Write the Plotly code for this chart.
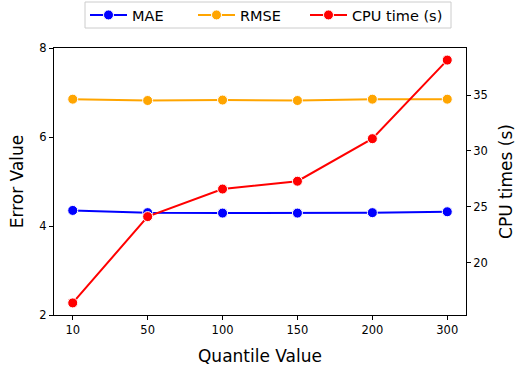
import plotly.graph_objects as go

quantiles = ["10", "50", "100", "150", "200", "300"]
mae = [4.35, 4.30, 4.29, 4.29, 4.30, 4.32]
rmse = [6.85, 6.82, 6.83, 6.82, 6.85, 6.85]
cpu_time = [16.43, 24.14, 26.6, 27.3, 31.1, 38.12]

FONT = "DejaVu Sans"

fig = go.Figure()
marker_line = dict(color="white", width=1)
fig.add_trace(go.Scatter(x=quantiles, y=mae, name="MAE", mode="lines+markers",
                         line=dict(color="#0000ff", width=2),
                         marker=dict(size=10, color="#0000ff", line=marker_line),
                         legend="legend", showlegend=True))
fig.add_trace(go.Scatter(x=quantiles, y=rmse, name="RMSE", mode="lines+markers",
                         line=dict(color="#ffa500", width=2),
                         marker=dict(size=10, color="#ffa500", line=marker_line),
                         legend="legend2", showlegend=True))
fig.add_trace(go.Scatter(x=quantiles, y=cpu_time, name="CPU time (s)", mode="lines+markers",
                         line=dict(color="#ff0000", width=2),
                         marker=dict(size=10, color="#ff0000", line=marker_line),
                         yaxis="y2", legend="legend3", showlegend=True))

axis_common = dict(showgrid=False, zeroline=False, showline=True, linecolor="black",
                   linewidth=1, ticks="outside", ticklen=4, tickcolor="black",
                   tickfont=dict(family=FONT, size=11.5, color="black"))

def px_x(p):
    return (p - 54) / 412.0

def px_y(p):
    return (315 - p) / 267.0

leg_common = dict(orientation="h", xanchor="left", yanchor="middle", y=px_y(15),
                  bgcolor="rgba(0,0,0,0)", borderwidth=0, itemwidth=37,
                  font=dict(family=FONT, size=14.5, color="black"))

fig.update_layout(
    width=516, height=368,
    showlegend=True,
    margin=dict(l=54, r=50, t=48, b=53, autoexpand=False),
    paper_bgcolor="white", plot_bgcolor="white",
    font=dict(family=FONT, color="black"),
    xaxis=dict(type="category", range=[-0.25, 5.25], mirror=True,
               title=dict(text="Quantile Value", font=dict(family=FONT, size=17), standoff=14),
               **axis_common),
    yaxis=dict(range=[2, 8], tickvals=[2, 4, 6, 8],
               title=dict(text="Error Value", font=dict(family=FONT, size=17), standoff=11),
               **axis_common),
    yaxis2=dict(overlaying="y", side="right", range=[15.35, 39.2], tickvals=[20, 25, 30, 35],
                title=dict(text="CPU times (s)", font=dict(family=FONT, size=17), standoff=15),
                **axis_common),
    legend=dict(x=px_x(85), **leg_common),
    legend2=dict(x=px_x(193), **leg_common),
    legend3=dict(x=px_x(305), **leg_common),
    shapes=[dict(type="rect", xref="paper", yref="paper",
                 x0=px_x(85), x1=px_x(451), y0=px_y(28), y1=px_y(2),
                 line=dict(color="#cccccc", width=1), fillcolor="rgba(0,0,0,0)", layer="below")],
)

fig.write_html("out.html")
